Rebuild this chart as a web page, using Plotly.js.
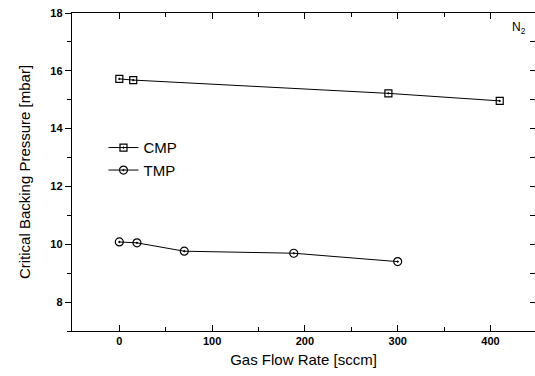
<!DOCTYPE html>
<html><head><meta charset="utf-8">
<script src="https://cdn.plot.ly/plotly-3.0.1.min.js"></script>
<style>html,body{margin:0;padding:0;overflow:hidden;background:#fff}</style>
</head><body><div id="chart" style="width:535px;height:376px"></div>
<script>
const cmpFlow = [0, 15, 290, 410];
const cmpPressure = [15.72, 15.68, 15.22, 14.96];
const tmpFlow = [0, 19, 70, 188, 300];
const tmpPressure = [10.08, 10.05, 9.76, 9.69, 9.40];
const seriesNames = ['CMP', 'TMP'];

const fontFam = 'Liberation Sans, Arial, sans-serif';
const traces = [
  {x: cmpFlow, y: cmpPressure, name: seriesNames[0], mode: 'lines+markers',
   line: {color: '#000', width: 1}, marker: {symbol: 'square-open-dot', size: 7, color: '#000', line: {width: 1.2}}},
  {x: tmpFlow, y: tmpPressure, name: seriesNames[1], mode: 'lines+markers',
   line: {color: '#000', width: 1}, marker: {symbol: 'circle-open-dot', size: 8, color: '#000', line: {width: 1.2}}},
  {x: [], y: [], yaxis: 'y2', showlegend: false}
];
const layout = {
  width: 535, height: 376,
  margin: {l: 72, r: 0, t: 13, b: 45},
  paper_bgcolor: '#fff', plot_bgcolor: '#fff',
  font: {family: fontFam, color: '#000'},
  showlegend: true,
  legend: {x: 0.068, y: 0.628, xanchor: 'left', yanchor: 'top', bgcolor: 'rgba(0,0,0,0)',
           font: {size: 15, family: fontFam}, tracegroupgap: 0, itemwidth: 30},
  xaxis: {range: [-51, 448], showgrid: false, zeroline: false, showline: true, linecolor: '#000', linewidth: 1.2,
          mirror: 'ticks', ticks: 'inside', ticklen: 6, tickcolor: '#000', dtick: 100, tick0: 0,
          minor: {ticks: 'inside', ticklen: 4, dtick: 50, tickcolor: '#000'},
          tickfont: {size: 11, weight: 'bold'},
          title: {text: 'Gas Flow Rate [sccm]', font: {size: 15}, standoff: 8}},
  yaxis: {range: [7, 18], showgrid: false, zeroline: false, showline: true, linecolor: '#000', linewidth: 1.2,
          ticks: 'outside', ticklen: 6, tickcolor: '#000', dtick: 2, tick0: 0,
          minor: {ticks: 'outside', ticklen: 4, dtick: 1, tickcolor: '#000'},
          tickfont: {size: 11, weight: 'bold'},
          title: {text: 'Critical Backing Pressure [mbar]', font: {size: 15}, standoff: 16}},
  yaxis2: {range: [7, 18], overlaying: 'y', side: 'right', showgrid: false, zeroline: false, showline: false,
           ticks: 'inside', ticklen: 5, tickcolor: '#000', dtick: 1, tick0: 0, showticklabels: false},
  annotations: [{text: 'N<sub>2</sub>', xref: 'paper', yref: 'paper', x: 0.985, y: 0.985, xanchor: 'right', yanchor: 'top',
                 showarrow: false, font: {size: 12, family: fontFam}}]
};
Plotly.newPlot('chart', traces, layout, {staticPlot: true});
</script></body></html>
